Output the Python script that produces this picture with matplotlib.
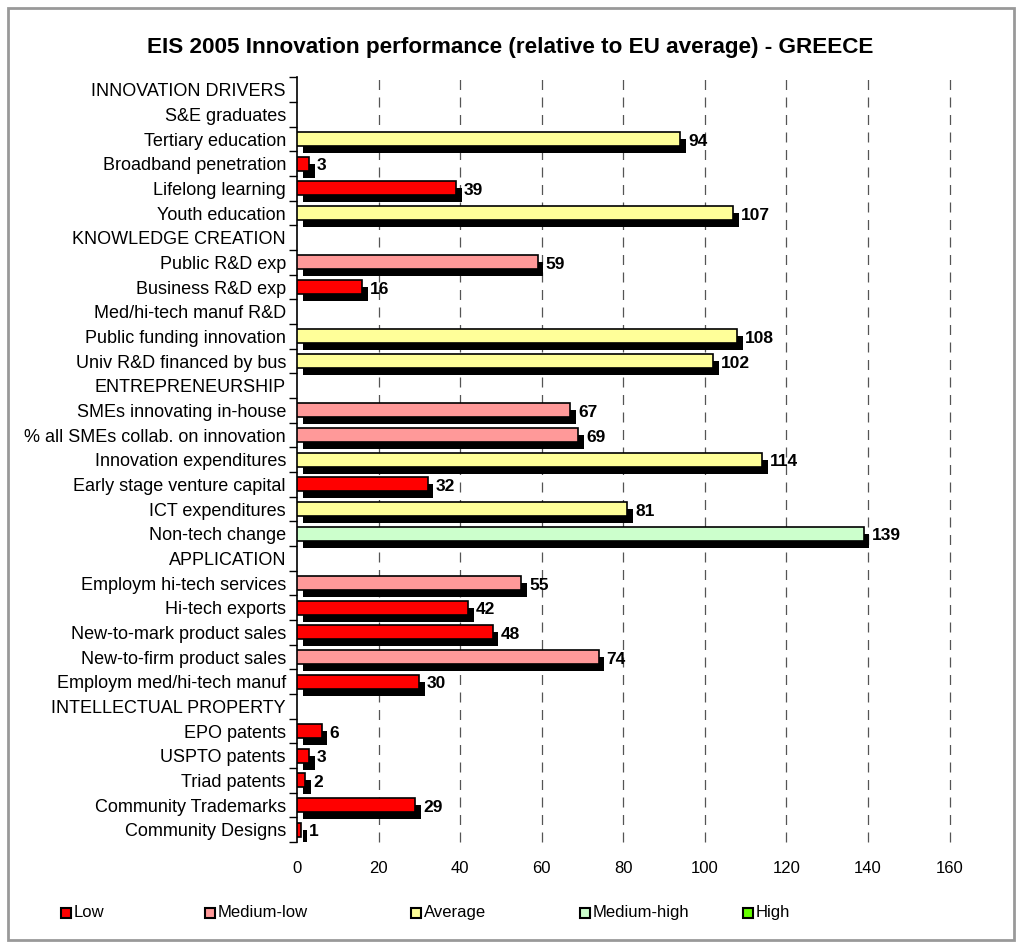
import matplotlib
matplotlib.use("Agg")
import matplotlib.pyplot as plt
import matplotlib.patheffects as pe
from matplotlib.patches import Rectangle
import numpy as np

plt.rcParams['font.family'] = ['Liberation Sans', 'DejaVu Sans']

indicators = [
    "INNOVATION DRIVERS", "S&E graduates", "Tertiary education", "Broadband penetration",
    "Lifelong learning", "Youth education", "KNOWLEDGE CREATION", "Public R&D exp",
    "Business R&D exp", "Med/hi-tech manuf R&D", "Public funding innovation",
    "Univ R&D financed by bus", "ENTREPRENEURSHIP", "SMEs innovating in-house",
    "% all SMEs collab. on innovation", "Innovation expenditures",
    "Early stage venture capital", "ICT expenditures", "Non-tech change", "APPLICATION",
    "Employm hi-tech services", "Hi-tech exports", "New-to-mark product sales",
    "New-to-firm product sales", "Employm med/hi-tech manuf", "INTELLECTUAL PROPERTY",
    "EPO patents", "USPTO patents", "Triad patents", "Community Trademarks",
    "Community Designs",
]
values = [
    None, None, 94, 3, 39, 107, None, 59, 16, None, 108, 102, None, 67, 69, 114,
    32, 81, 139, None, 55, 42, 48, 74, 30, None, 6, 3, 2, 29, 1,
]
levels = [
    None, None, "Average", "Low", "Low", "Average", None, "Medium-low", "Low", None,
    "Average", "Average", None, "Medium-low", "Medium-low", "Average", "Low", "Average",
    "Medium-high", None, "Medium-low", "Low", "Low", "Medium-low", "Low", None,
    "Low", "Low", "Low", "Low", "Low",
]
legend_labels = ["Low", "Medium-low", "Average", "Medium-high", "High"]
legend_colors = ["#FF0000", "#FF9999", "#FFFF99", "#CCFFCC", "#66FF00"]
x_ticks = [0, 20, 40, 60, 80, 100, 120, 140, 160]

color_of = dict(zip(legend_labels, legend_colors))

fig = plt.figure(figsize=(10.21, 9.44), dpi=100)
ax = fig.add_axes([0.291, 0.108, 0.639, 0.810])

n = len(indicators)
ypos = np.arange(n)
shadow = [pe.SimplePatchShadow(offset=(4.0, -5.0), shadow_rgbFace='black', alpha=1.0),
          pe.Normal()]

for y, v, lev in zip(ypos, values, levels):
    if v is None:
        continue
    bars = ax.barh(y, v, height=0.56, color=color_of[lev], edgecolor='black',
                   linewidth=1.2, zorder=3)
    for b in bars:
        b.set_path_effects(shadow)
    ax.annotate(str(v), xy=(v, y), xytext=(5.5, -1.5), textcoords='offset points',
                ha='left', va='center', fontsize=12.5, fontweight='bold', zorder=4)

ax.set_xlim(0, 160)
ax.set_ylim(n - 0.5, -0.5)
ax.set_xticks(x_ticks)
ax.set_xticklabels([str(t) for t in x_ticks], fontsize=12)
ax.tick_params(axis='x', length=0, pad=14)
ax.set_yticks(ypos)
ax.set_yticklabels(indicators, fontsize=13)
ax.tick_params(axis='y', length=0, pad=8)
# tick marks between rows
ax.set_yticks(np.arange(-0.5, n, 1.0), minor=True)
ax.tick_params(axis='y', which='minor', length=6, width=1, direction='out')

for s in ['top', 'right', 'bottom']:
    ax.spines[s].set_visible(False)
ax.spines['left'].set_linewidth(1.2)

for t in x_ticks[1:]:
    ax.axvline(t, color='#555555', linestyle=(0, (8, 6)), linewidth=0.9, zorder=1,
               clip_on=False)

fig.text(0.5, 0.950, "EIS 2005 Innovation performance (relative to EU average) - GREECE",
         ha='center', va='center', fontsize=16.2, fontweight='bold')

# legend row
legend_x = [0.060, 0.201, 0.403, 0.568, 0.728]
for lx, lab, col in zip(legend_x, legend_labels, legend_colors):
    fig.patches.append(Rectangle((lx, 0.0275), 0.0095, 0.0105, transform=fig.transFigure,
                                 facecolor=col, edgecolor='black', linewidth=1.5))
    fig.text(lx + 0.012, 0.033, lab, ha='left', va='center', fontsize=12)

# outer frame
fig.patches.append(Rectangle((0.008, 0.004), 0.985, 0.988, transform=fig.transFigure,
                             fill=False, edgecolor='#999999', linewidth=2))

fig.savefig("out.png", dpi=100)
